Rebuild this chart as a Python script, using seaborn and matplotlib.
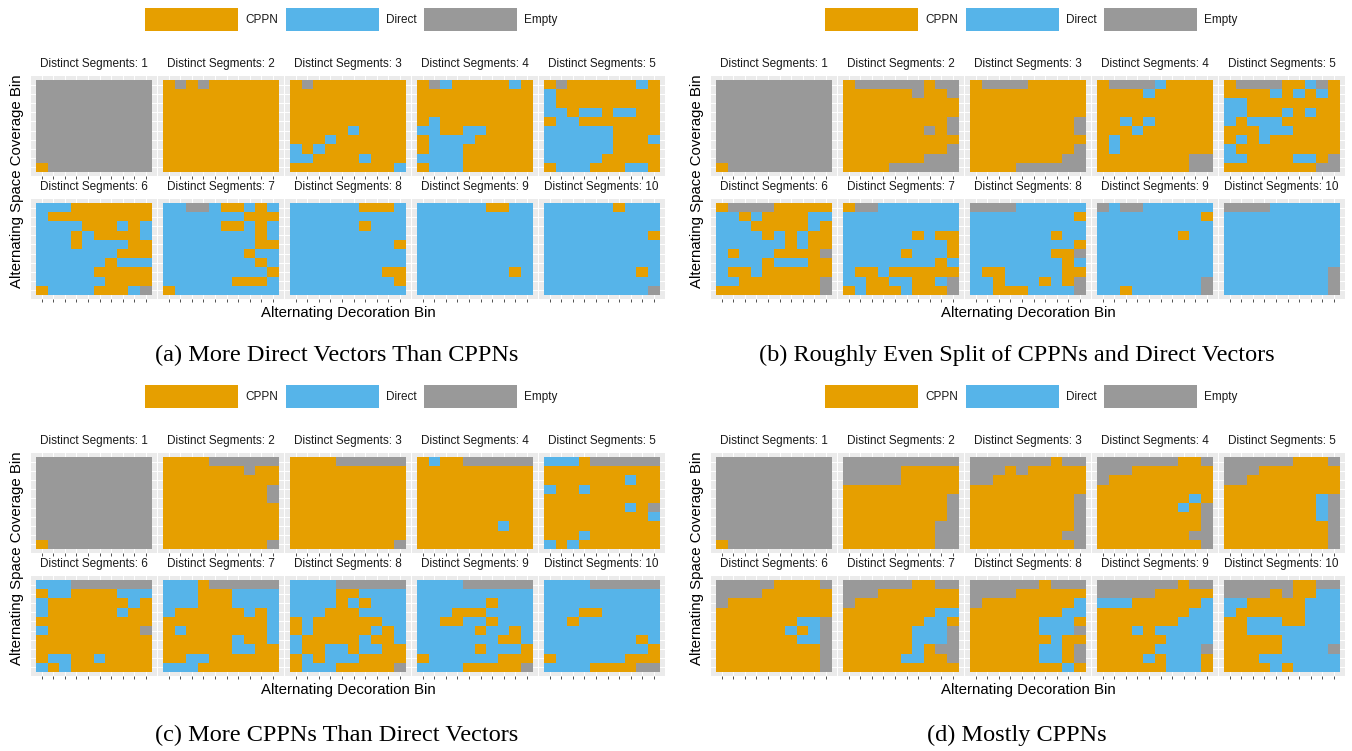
import numpy as np
import pandas as pd
import matplotlib
matplotlib.use("Agg")
import matplotlib.pyplot as plt
import seaborn as sns
from matplotlib.colors import ListedColormap
from matplotlib.patches import Rectangle

# ---------------- data ----------------
categories = ["CPPN", "Direct", "Empty"]
codes = {"C": 0, "D": 1, "E": 2}
palette = ["#E69F00", "#56B4E9", "#999999"]
segments = list(range(1, 11))
captions = ["(a) More Direct Vectors Than CPPNs",
            "(b) Roughly Even Split of CPPNs and Direct Vectors",
            "(c) More CPPNs Than Direct Vectors",
            "(d) Mostly CPPNs"]
x_title = "Alternating Decoration Bin"
y_title = "Alternating Space Coverage Bin"

# each grid: 10 rows (top -> bottom), 10 columns (left -> right)
grids_a = [
    "EEEEEEEEEE EEEEEEEEEE EEEEEEEEEE EEEEEEEEEE EEEEEEEEEE EEEEEEEEEE EEEEEEEEEE EEEEEEEEEE EEEEEEEEEE CEEEEEEEEE",
    "CECECCCCCC CCCCCCCCCC CCCCCCCCCC CCCCCCCCCC CCCCCCCCCC CCCCCCCCCC CCCCCCCCCC CCCCCCCCCC CCCCCCCCCC CCCCCCCCCC",
    "CECCCCCCCC CCCCCCCCCC CCCCCCCCCC CCCCCCCCCC CCCCCCCCCC CCCCCDCCCC CCCDCCCCCC DCDCCCCCCC DDCCCCDCCC CCCCCCCCCD",
    "CEDCCCCCDC CCCCCCCCCC CCCCCCCCCC CCCCCCCCCC CDCCCCCCCC DDCCDDCCCC CDDDDCCCCC CDDDCCCCCC DDDDCCCCCC CDDDCCCCCC",
    "CECCCCCCDC DCCCCCCCCC DCCCCCCCCC DDCDDCDDCC CDDCCCCCCC DDDDDDCCCC DDDDDDCCCD DDDDDDCCCC DDDDDCCCCC CDDDCCCDDC",
    "DDDCCCCCCC DCCCCCCCCC DDDDCCCDCD DDDCDCCCCD DDDCDDDDCC DDDDDDDCCC DDDDDDCDDD DDDDDCCCCC DDDDDDCCCC CDDDDCCCDE",
    "DDEEDCCDCD DDDDDDDCCC DDDDDCCDCD DDDDDDDDCD DDDDDDDDCC DDDDDDDCDD DDDDDDDDCD DDDDDDDDDC DDDDDDCCCD CDDDDDDDDD",
    "DDDDDDCCCD DDDDDDDDDD DDDDDDCDDD DDDDDDDDDD DDDDDDDDDC DDDDDDDDDD DDDDDDDDDD DDDDDDDDCC DDDDDDDDDC DDDDDDDDDD",
    "DDDDDDCCDD DDDDDDDDDD DDDDDDDDDD DDDDDDDDDD DDDDDDDDDD DDDDDDDDDD DDDDDDDDDD DDDDDDDDCD DDDDDDDDDD DDDDDDDDDD",
    "DDDDDDCDDD DDDDDDDDDD DDDDDDDDDD DDDDDDDDDC DDDDDDDDDD DDDDDDDDDD DDDDDDDDDD DDDDDDDDCD DDDDDDDDDD DDDDDDDDDE",
]
grids_b = [
    "EEEEEEEEEE EEEEEEEEEE EEEEEEEEEE EEEEEEEEEE EEEEEEEEEE EEEEEEEEEE EEEEEEEEEE EEEEEEEEEE EEEEEEEEEE CEEEEEEEEE",
    "CEEEEEECEE CCCCCCECCE CCCCCCCCCC CCCCCCCCCC CCCCCCCCCE CCCCCCCECE CCCCCCCCCC CCCCCCCCCE CCCCCCCEEE CCCCEEEEEE",
    "CEEEECCCCC CCCCCCCCCC CCCCCCCCCC CCCCCCCCCC CCCCCCCCCE CCCCCCCCCE CCCCCCCCCC CCCCCCCCCE CCCCCCCCEE CCCCEEEEEE",
    "CEEEEDCCCC CCCCDCCCCC CCCCCCCCCC CCCCCCCCCC CCDCDCCCCC CCCDCCCCCC CDCCCCCCCC CDCCCCCCCC CCCCCCCCEE CCCCCCCCEE",
    "CEEEECCDEC CCCCDCDCDC DDCCCCCCCC DDCCCDCDCC DCDDDCCCCC CCCDDDCCCC CDCDCCCCCC DCCCCCCCCC DDCCCCDDCE CCCCCCCCEE",
    "CEEEECCCCC DDCDCCCCDD DDDCCCCCDC DDDDCDCDCC DDDDDDCDCC DCDDDCCCCE DDDDCDDDCC DCCDCCCCCC DDCCCCCCCE CCCCCCCCCE",
    "CEEDDDDDDD DDDDDDDDDD DDDDDDDDDD DDDDDDCDCC DDDDDDDDDC DDDDDCDDDC DDDDDDDDCD DCCDCCCCCC DDCCDDCCDE CDCCCDCCCE",
    "EEEEDDDDDD DDDDDDDDDC DDDDDDDDDD DDDDDDDCDD DDDDDDDDDC DDDDDDDCCE DDDDDDDDCD DCCDDDDDCC DDCDDDCDCE DDCCCDDDDE",
    "EDEEDDDDDD DDDDDDDDDC DDDDDDDDDD DDDDDDDCDD DDDDDDDDDD DDDDDDDDDD DDDDDDDDDD DDDDDDDDDD DDDDDDDDDE DDCDDDDDDE",
    "EEEEDDDDDD DDDDDDDDDD DDDDDDDDDD DDDDDDDDDD DDDDDDDDDD DDDDDDDDDD DDDDDDDDDD DDDDDDDDDE DDDDDDDDDE DDDDDDDDDE",
]
grids_c = [
    "EEEEEEEEEE EEEEEEEEEE EEEEEEEEEE EEEEEEEEEE EEEEEEEEEE EEEEEEEEEE EEEEEEEEEE EEEEEEEEEE EEEEEEEEEE CEEEEEEEEE",
    "CCCCEEEEEE CCCCCCCECC CCCCCCCCCC CCCCCCCCCE CCCCCCCCCE CCCCCCCCCC CCCCCCCCCC CCCCCCCCCC CCCCCCCCCC CCCCCCCCCE",
    "CCCCEEEEEE CCCCCCCCCC CCCCCCCCCC CCCCCCCCCC CCCCCCCCCC CCCCCCCCCC CCCCCCCCCC CCCCCCCCCC CCCCCCCCCC CCCCCCCCCE",
    "CDCCEEEEEE CCCCCCCCCC CCCCCCCCCC CCCCCCCCCC CCCCCCCCCC CCCCCCCCCC CCCCCCCCCC CCCCCCCDCC CCCCCCCCCC CCCCCCCCCC",
    "DDDCEEEEEE CCCCCCCCCC CCCCCCCDCC DCCDCCCCCC CCCCCCCCCC CCCCCCCDCE CCCCCCCCCD CCCCCCCCCC CCCDCCCCCC DCDCCCCCCC",
    "DDDEEEEEEE CDDCCCCDDD DCCCCCCCDC DCCCCCCDCC CCCCCCCCCC DCCCCCCCCE CCCCCCCCCC CCCCCCCCCC CDDCCDCCCC DCDCCCCCCC",
    "DDDCEEEEEE DDDCCCDDDD DDDCCCDDDD DCCCCCCDCD CCCCCCCCCD CDCCCCCCCD CCCCCCDCCD CCCCCCDDCC CCDDCCCCCC DDDCCCCCCC",
    "DDDDEEEEEE DDDDCCDDDD DDDDCDCDDD DDDCCCDDDD CDCCCCCCDD CDCCCCCDCD DCCCCCDCCD DCCDDCDDCC CDCDDDCCCC CDDDCCCCCE",
    "DDDDEEEEEE DDDDDDDDDD DDDDDDCDDD DDDCCCDDDD DDCCDDCDDD DDDDDCDDCD DDDDDDDCCD DDDDDCDDDC CDDDDDDCCC DDDDCCCCCE",
    "DDDDEEEEEE DDDDDDDDDD DDDDDDDDDD DDDCCDDDDD DDCDDDDDDD DDDDDDDDDD DDDDDDDDCD DDDDDDDDDC CDDDDDDCCC DDDDCCCCEE",
]
grids_d = [
    "EEEEEEEEEE EEEEEEEEEE EEEEEEEEEE EEEEEEEEEE EEEEEEEEEE EEEEEEEEEE EEEEEEEEEE EEEEEEEEEE EEEEEEEEEE CEEEEEEEEE",
    "EEEEEEEEEE EEEEECCCCC EEEEECCCCC CCCCCCCCCC CCCCCCCCCE CCCCCCCCCE CCCCCCCCCE CCCCCCCCEE CCCCCCCCEE CCCCCCCCEE",
    "EEEEEEECEE EEECECCCCC EECCCCCCCC CCCCCCCCCC CCCCCCCCCE CCCCCCCCCE CCCCCCCCCE CCCCCCCCCE CCCCCCCCEE CCCCCCCCCE",
    "EEEEEEECCE EEECCCCCCC ECCCCCCCCC CCCCCCCCCC CCCCCCCCDC CCCCCCCDCE CCCCCCCCCE CCCCCCCCCE CCCCCCCCEE CCCCCCCCCE",
    "EEEEEECCCE EEECCCCCCC EECCCCCCCC CCCCCCCCCC CCCCCCCCDE CCCCCCCCDE CCCCCCCCDE CCCCCCCCCE CCCCCCCCCE CCCCCCCCCE",
    "EEEEECCCCE EEEECCCCCC ECCCCCCCCC CCCCCCCCCC CCCCCCCDDE CCCCCCDCDE CCCCCCCDDE CCCCCCCCCE CCCCCCCCCE CCCCCCCCCE",
    "EEEEEECCEE EEECCCCCCC ECCCCCCCCC CCCCCCCCDD CCCCCCCDDC CCCCCCDDDE CCCCCCDDDE CCCCCCDCEE CCCCCDDCCE CCCCCCCCCC",
    "EEEEEECEEE EEEECCCCCC ECCCCCCCCD CCCCCCCCDD CCCCCCDDDC CCCCCCDDDE CCCCCCCDCC CCCCCCDDCE CCCCCCDDCE CCCCCCCCDC",
    "EEEEEEECEE EEEEECCCCC DDDCCCCCCD CCCCCCCCDD CCCCCCCDDD CCCDCDDDDD CCCCCCDDDD CCCCCDDDDE CCCCDCDDDC CCCCCCDDDC",
    "EEEEEECCEE EEEECECCDD DDCCCCCDDD DCCCCCCDDD CCDDDCCDDD CCDDDDDDDD CCCCCDDDDD CCCCCDDDDE CCCDDDDDDD CCCCDCDDDD",
]

# ---------------- layout (pixels) ----------------
W, H = 1352, 751
quad_offsets = [(0, 0), (680, 0), (0, 377), (680, 377)]
caption_y = [355, 355, 735, 735]
tile_x0 = [36, 163, 290, 417, 544]
tile_y0 = [80, 203]
tile_w, tile_h = 115.5, 92.0
pad = 0.45

plt.rcParams["font.family"] = ["Liberation Sans", "DejaVu Sans"]
fig = plt.figure(figsize=(W / 100, H / 100), dpi=100)
fig.patch.set_facecolor("white")
cmap = ListedColormap(palette)


def to_frame(s):
    rows = s.split()
    arr = [[codes[ch] for ch in r] for r in rows]
    return pd.DataFrame(arr, index=list(range(10, 0, -1)), columns=list(range(1, 11)))


def fx(px):
    return px / W


def fy(py):
    return 1 - py / H


for q, grids in enumerate([grids_a, grids_b, grids_c, grids_d]):
    ox, oy = quad_offsets[q]
    for i, (seg, g) in enumerate(zip(segments, grids)):
        r, c = divmod(i, 5)
        tx = ox + tile_x0[c]
        ty = oy + tile_y0[r]
        cw, chh = tile_w / 10, tile_h / 10
        left = tx - pad * cw
        top = ty - pad * chh
        w = tile_w + 2 * pad * cw
        h = tile_h + 2 * pad * chh
        ax = fig.add_axes([fx(left), fy(top + h), w / W, h / H])
        sns.heatmap(to_frame(g), ax=ax, cmap=cmap, vmin=-0.5, vmax=2.5,
                    cbar=False, xticklabels=False, yticklabels=False)
        ax.set_facecolor("#EBEBEB")
        ax.set_xlim(-pad, 10 + pad)
        ax.set_ylim(10 + pad, -pad)
        ax.set_xticks(np.arange(10) + 0.5)
        ax.set_yticks(np.arange(10) + 0.5)
        ax.set_xticklabels([])
        ax.set_yticklabels([])
        ax.set_axisbelow(True)
        ax.grid(True, color="white", lw=0.7)
        ax.tick_params(axis="x", length=2.2, width=0.6, color="#333333")
        ax.tick_params(axis="y", length=0)
        ax.set_xlabel("")
        ax.set_ylabel("")
        for sp in ax.spines.values():
            sp.set_visible(False)
        fig.text(fx(tx + tile_w / 2), fy(ty - 16), f"Distinct Segments: {seg}",
                 ha="center", va="center", fontsize=8.5, color="#1A1A1A")

    # legend
    leg_x = [145, 286, 424]
    for k, cat in enumerate(categories):
        fig.patches.append(Rectangle((fx(ox + leg_x[k]), fy(oy + 31)), 93 / W, 23 / H,
                                     transform=fig.transFigure, facecolor=palette[k],
                                     edgecolor="none"))
        fig.text(fx(ox + leg_x[k] + 100), fy(oy + 20), cat, ha="left", va="center",
                 fontsize=8.5, color="#1A1A1A")

    # axis titles
    fig.text(fx(ox + 348), fy(oy + 313), x_title, ha="center", va="center",
             fontsize=10.8, color="black")
    fig.text(fx(ox + 17), fy(oy + 181), y_title, ha="center", va="center",
             rotation=90, fontsize=10.8, color="black")
    # caption
    fig.text(fx(ox + 337), fy(caption_y[q]), captions[q], ha="center", va="center",
             fontsize=17.5, family=["Liberation Serif", "DejaVu Serif"], color="black")

fig.savefig("out.png", dpi=100, facecolor="white")
